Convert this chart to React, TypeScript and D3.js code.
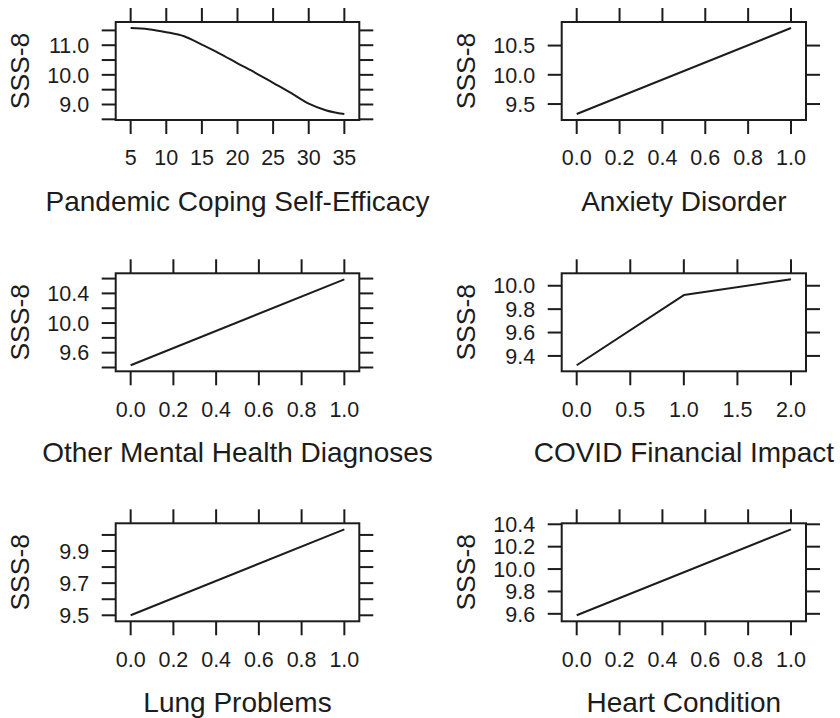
import React from "react";
import * as d3 from "d3";

// ---- data ----
const copingX = [5, 7.5, 10, 12.5, 15, 17.5, 20, 22.5, 25, 27.5, 30, 32.5, 35];
const copingY = [11.58, 11.54, 11.44, 11.3, 11.02, 10.72, 10.39, 10.07, 9.73, 9.39, 9.03, 8.8, 8.68];

const anxietyX = [0, 1];
const anxietyY = [9.33, 10.8];

const otherMhX = [0, 1];
const otherMhY = [9.43, 10.59];

const financialX = [0, 1, 2];
const financialY = [9.32, 9.92, 10.055];

const lungX = [0, 1];
const lungY = [9.5, 10.035];

const heartX = [0, 1];
const heartY = [9.587, 10.355];

// ---- ticks ----
const copingXTicks = [5, 10, 15, 20, 25, 30, 35];
const copingYTicks = [8.5, 9.0, 9.5, 10.0, 10.5, 11.0, 11.5];
const copingYLabels = [9.0, 10.0, 11.0];

const binaryXTicks = [0, 0.2, 0.4, 0.6, 0.8, 1.0];

const anxietyYTicks = [9.5, 10.0, 10.5];
const anxietyYLabels = [9.5, 10.0, 10.5];

const otherMhYTicks = [9.4, 9.6, 9.8, 10.0, 10.2, 10.4, 10.6];
const otherMhYLabels = [9.6, 10.0, 10.4];

const financialXTicks = [0, 0.5, 1, 1.5, 2];
const financialYTicks = [9.4, 9.6, 9.8, 10.0];
const financialYLabels = [9.4, 9.6, 9.8, 10.0];

const lungYTicks = [9.5, 9.6, 9.7, 9.8, 9.9, 10.0];
const lungYLabels = [9.5, 9.7, 9.9];

const heartYTicks = [9.6, 9.8, 10.0, 10.2, 10.4];
const heartYLabels = [9.6, 9.8, 10.0, 10.2, 10.4];

const titles = [
  "Pandemic Coping Self-Efficacy",
  "Anxiety Disorder",
  "Other Mental Health Diagnoses",
  "COVID Financial Impact",
  "Lung Problems",
  "Heart Condition",
];
const yTitle = "SSS-8";

// ---- layout ----
const W = 840;
const H = 718;
const colLeft = [115.7, 561.7];
const colRight = [359.3, 806];
const rowTop = [22, 273.3, 523.3];
const boxH = 98;
const TICK = 14;
const FONT = "Arial, 'Liberation Sans', Helvetica, sans-serif";
const tickFs = 21.5;
const titleFs = 28;
const yTitleFs = 26.5;
const INK = "#1c1c1c";

type PanelSpec = {
  xs: number[];
  ys: number[];
  xTicks: number[];
  yTicks: number[];
  yLabels: number[];
  xFmt: (v: number) => string;
  title: string;
};

const fmt1 = d3.format(".1f");
const fmt0 = d3.format("d");

const panels: PanelSpec[] = [
  { xs: copingX, ys: copingY, xTicks: copingXTicks, yTicks: copingYTicks, yLabels: copingYLabels, xFmt: fmt0, title: titles[0] },
  { xs: anxietyX, ys: anxietyY, xTicks: binaryXTicks, yTicks: anxietyYTicks, yLabels: anxietyYLabels, xFmt: fmt1, title: titles[1] },
  { xs: otherMhX, ys: otherMhY, xTicks: binaryXTicks, yTicks: otherMhYTicks, yLabels: otherMhYLabels, xFmt: fmt1, title: titles[2] },
  { xs: financialX, ys: financialY, xTicks: financialXTicks, yTicks: financialYTicks, yLabels: financialYLabels, xFmt: fmt1, title: titles[3] },
  { xs: lungX, ys: lungY, xTicks: binaryXTicks, yTicks: lungYTicks, yLabels: lungYLabels, xFmt: fmt1, title: titles[4] },
  { xs: heartX, ys: heartY, xTicks: binaryXTicks, yTicks: heartYTicks, yLabels: heartYLabels, xFmt: fmt1, title: titles[5] },
];

function padded(vals: number[]): [number, number] {
  const [lo, hi] = d3.extent(vals) as [number, number];
  const r = hi - lo;
  return [lo - 0.07 * r, hi + 0.07 * r];
}

function Panel({ spec, idx }: { spec: PanelSpec; idx: number }) {
  const col = idx % 2;
  const row = Math.floor(idx / 2);
  const left = colLeft[col];
  const right = colRight[col];
  const top = rowTop[row];
  const bottom = top + boxH;

  const x = d3.scaleLinear().domain(padded(spec.xs)).range([left, right]);
  const y = d3.scaleLinear().domain(padded(spec.ys)).range([bottom, top]);

  const pts: [number, number][] = spec.xs.map((v, i) => [v, spec.ys[i]]);
  const line = d3
    .line<[number, number]>()
    .x((d) => x(d[0]))
    .y((d) => y(d[1]))
    .curve(spec.xs.length > 3 ? d3.curveMonotoneX : d3.curveLinear);

  const cx = (left + right) / 2;
  const cy = (top + bottom) / 2;

  return (
    <g>
      <path d={line(pts) || ""} fill="none" stroke={INK} strokeWidth={2} strokeLinejoin="round" />
      <rect x={left} y={top} width={right - left} height={bottom - top} fill="none" stroke={INK} strokeWidth={2} />
      {spec.xTicks.map((t) => (
        <g key={"xt" + t}>
          <line x1={x(t)} x2={x(t)} y1={top} y2={top - TICK} stroke={INK} strokeWidth={2} />
          <line x1={x(t)} x2={x(t)} y1={bottom} y2={bottom + TICK} stroke={INK} strokeWidth={2} />
          <text
            x={x(t)}
            y={bottom + 37.5 + 0.36 * tickFs}
            textAnchor="middle"
            fontSize={tickFs}
            fontFamily={FONT}
            fill={INK}
          >
            {spec.xFmt(t)}
          </text>
        </g>
      ))}
      {spec.yTicks.map((t) => (
        <g key={"yt" + t}>
          <line x1={left} x2={left - TICK} y1={y(t)} y2={y(t)} stroke={INK} strokeWidth={2} />
          <line x1={right} x2={right + TICK} y1={y(t)} y2={y(t)} stroke={INK} strokeWidth={2} />
        </g>
      ))}
      {spec.yLabels.map((t) => (
        <text
          key={"yl" + t}
          x={left - 26.5}
          y={y(t) + 0.36 * tickFs}
          textAnchor="end"
          fontSize={tickFs}
          fontFamily={FONT}
          fill={INK}
        >
          {fmt1(t)}
        </text>
      ))}
      <text
        transform={`translate(${left - 96.5 + 0.36 * yTitleFs},${cy}) rotate(-90)`}
        textAnchor="middle"
        fontSize={yTitleFs}
        fontFamily={FONT}
        fill={INK}
      >
        {yTitle}
      </text>
      <text
        x={cx}
        y={bottom + 81 + 0.36 * titleFs}
        textAnchor="middle"
        fontSize={titleFs}
        fontFamily={FONT}
        fill={INK}
      >
        {spec.title}
      </text>
    </g>
  );
}

export default function App() {
  return (
    <svg
      width={W}
      height={H}
      viewBox={`0 0 ${W} ${H}`}
      style={{ position: "absolute", left: 0, top: 0, background: "#ffffff" }}
    >
      <rect x={0} y={0} width={W} height={H} fill="#ffffff" />
      {panels.map((p, i) => (
        <Panel key={i} spec={p} idx={i} />
      ))}
    </svg>
  );
}
